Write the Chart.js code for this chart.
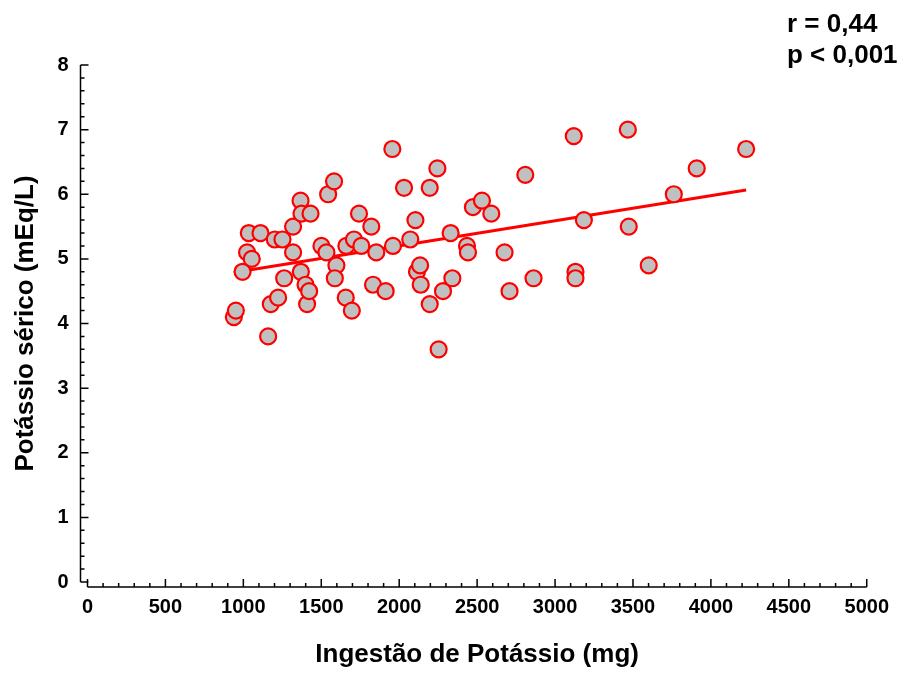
<!DOCTYPE html>
<html>
<head>
<meta charset="utf-8">
<script src="https://cdn.jsdelivr.net/npm/chart.js@4"></script>
<style>
  body { margin: 0; background: #fff; }
  #wrap { width: 902px; height: 673px; }
</style>
</head>
<body>
<div id="wrap"><canvas id="scatterChart"></canvas></div>
<script>
// potassium intake (mg) and serum potassium (mEq/L), one pair per patient
const intake = [
  939, 952, 995, 1024, 1035, 1054, 1110, 1159, 1176, 1202,
  1223, 1251, 1262, 1319, 1319, 1367, 1373, 1369, 1399, 1409,
  1422, 1431, 1501, 1533, 1544, 1582, 1597, 1587, 1657, 1661,
  1696, 1710, 1742, 1757, 1821, 1832, 1853, 1913, 1956, 1960,
  2031, 2071, 2104, 2114, 2134, 2138, 2196, 2196, 2245, 2253,
  2281, 2330, 2341, 2435, 2441, 2473, 2531, 2591, 2676, 2708,
  2809, 2862, 3120, 3131, 3131, 3185, 3467, 3473, 3601, 3762,
  3909, 4226
];
const serumK = [
  4.1, 4.2, 4.8, 5.1, 5.4, 5.0, 5.4, 3.8, 4.3, 5.3,
  4.4, 5.3, 4.7, 5.5, 5.1, 5.9, 5.7, 4.8, 4.6, 4.3,
  4.5, 5.7, 5.2, 5.1, 6.0, 6.2, 4.9, 4.7, 4.4, 5.2,
  4.2, 5.3, 5.7, 5.2, 5.5, 4.6, 5.1, 4.5, 6.7, 5.2,
  6.1, 5.3, 5.6, 4.8, 4.9, 4.6, 6.1, 4.3, 6.4, 3.6,
  4.5, 5.4, 4.7, 5.2, 5.1, 5.8, 5.9, 5.7, 5.1, 4.5,
  6.3, 4.7, 6.9, 4.8, 4.7, 5.6, 7.0, 5.5, 4.9, 6.0,
  6.4, 6.7
];
const xTickLabels = ['0', '500', '1000', '1500', '2000', '2500', '3000', '3500', '4000', '4500', '5000'];
const yTickLabels = ['0', '1', '2', '3', '4', '5', '6', '7', '8'];
const statsText = ['r = 0,44', 'p < 0,001'];

const points = intake.map((v, i) => ({ x: v, y: serumK[i] }));

// least squares line over the observed range
const n = intake.length;
const mx = intake.reduce((a, b) => a + b, 0) / n;
const my = serumK.reduce((a, b) => a + b, 0) / n;
let sxy = 0, sxx = 0;
for (let i = 0; i < n; i++) {
  sxy += (intake[i] - mx) * (serumK[i] - my);
  sxx += (intake[i] - mx) * (intake[i] - mx);
}
const slope = sxy / sxx;
const icpt = my - slope * mx;
const xMin = Math.min(...intake), xMax = Math.max(...intake);
const fitLine = [
  { x: xMin, y: icpt + slope * xMin },
  { x: xMax, y: icpt + slope * xMax }
];

const isMajorY = v => Math.abs(v - Math.round(v)) < 1e-6;
const isMajorX = v => v % 500 === 0;

// axes with inward ticks, y axis set a bit left of x = 0, x axis a bit below y = 0
const axesPlugin = {
  id: 'axesPlugin',
  afterDraw(chart) {
    const { ctx, scales: { x, y } } = chart;
    const yAxisX = x.getPixelForValue(0) - 7;
    const xAxisY = y.getPixelForValue(0) + 5;
    ctx.save();
    ctx.strokeStyle = '#000';
    ctx.lineWidth = 1.5;
    ctx.beginPath();
    ctx.moveTo(yAxisX, y.getPixelForValue(8));
    ctx.lineTo(yAxisX, y.getPixelForValue(0));
    y.ticks.forEach(t => {
      const py = y.getPixelForValue(t.value);
      ctx.moveTo(yAxisX, py);
      ctx.lineTo(yAxisX + (isMajorY(t.value) ? 8 : 4), py);
    });
    ctx.moveTo(x.getPixelForValue(0), xAxisY);
    ctx.lineTo(x.getPixelForValue(5000), xAxisY);
    x.ticks.forEach(t => {
      const px = x.getPixelForValue(t.value);
      ctx.moveTo(px, xAxisY);
      ctx.lineTo(px, xAxisY - (isMajorX(t.value) ? 8 : 4));
    });
    ctx.stroke();

    ctx.fillStyle = '#000';
    ctx.font = 'bold 26px "Liberation Sans", Arial, sans-serif';
    ctx.textAlign = 'left';
    ctx.textBaseline = 'alphabetic';
    ctx.fillText(statsText[0], 787, 32);
    ctx.fillText(statsText[1], 787, 63);
    ctx.restore();
  }
};

const tickFont = { family: '"Liberation Sans", Arial, sans-serif', size: 20, weight: 'bold' };
const titleFont = { family: '"Liberation Sans", Arial, sans-serif', size: 26, weight: 'bold' };

new Chart(document.getElementById('scatterChart').getContext('2d'), {
  type: 'scatter',
  data: {
    datasets: [{
      label: 'Pacientes',
      data: points,
      pointRadius: 8,
      pointBorderWidth: 2.2,
      pointBackgroundColor: '#c0c0c0',
      pointBorderColor: '#ff0000',
      pointHoverRadius: 8
    }, {
      type: 'line',
      label: 'Regressão',
      data: fitLine,
      borderColor: '#ff0000',
      borderWidth: 3,
      pointRadius: 0,
      fill: false
    }]
  },
  options: {
    responsive: true,
    maintainAspectRatio: false,
    animation: false,
    layout: { padding: { top: 65, right: 34, left: 0, bottom: 0 } },
    plugins: {
      legend: { display: false },
      tooltip: { enabled: false }
    },
    scales: {
      x: {
        type: 'linear',
        min: 0,
        max: 5000,
        afterFit: s => { s.height = 91; },
        grid: { display: false, drawTicks: false },
        border: { display: false },
        afterBuildTicks: s => {
          s.ticks = [];
          for (let v = 0; v <= 5000; v += 100) s.ticks.push({ value: v });
        },
        ticks: {
          autoSkip: false,
          maxRotation: 0,
          padding: 13,
          color: '#000',
          font: tickFont,
          callback: v => isMajorX(v) ? xTickLabels[v / 500] : ''
        },
        title: {
          display: true,
          text: 'Ingestão de Potássio (mg)',
          color: '#000',
          font: titleFont,
          padding: { top: 0, bottom: 3 }
        }
      },
      y: {
        type: 'linear',
        min: 0,
        max: 8,
        afterFit: s => { s.width = 87.5; },
        grid: { display: false, drawTicks: false },
        border: { display: false },
        afterBuildTicks: s => {
          s.ticks = [];
          for (let i = 0; i <= 40; i++) s.ticks.push({ value: i / 5 });
        },
        ticks: {
          autoSkip: false,
          padding: 19,
          color: '#000',
          font: tickFont,
          callback: v => isMajorY(v) ? yTickLabels[Math.round(v)] : ''
        },
        title: {
          display: true,
          text: 'Potássio sérico (mEq/L)',
          color: '#000',
          font: titleFont,
          padding: { top: 10, bottom: 0 }
        }
      }
    }
  },
  plugins: [axesPlugin]
});
</script>
</body>
</html>
